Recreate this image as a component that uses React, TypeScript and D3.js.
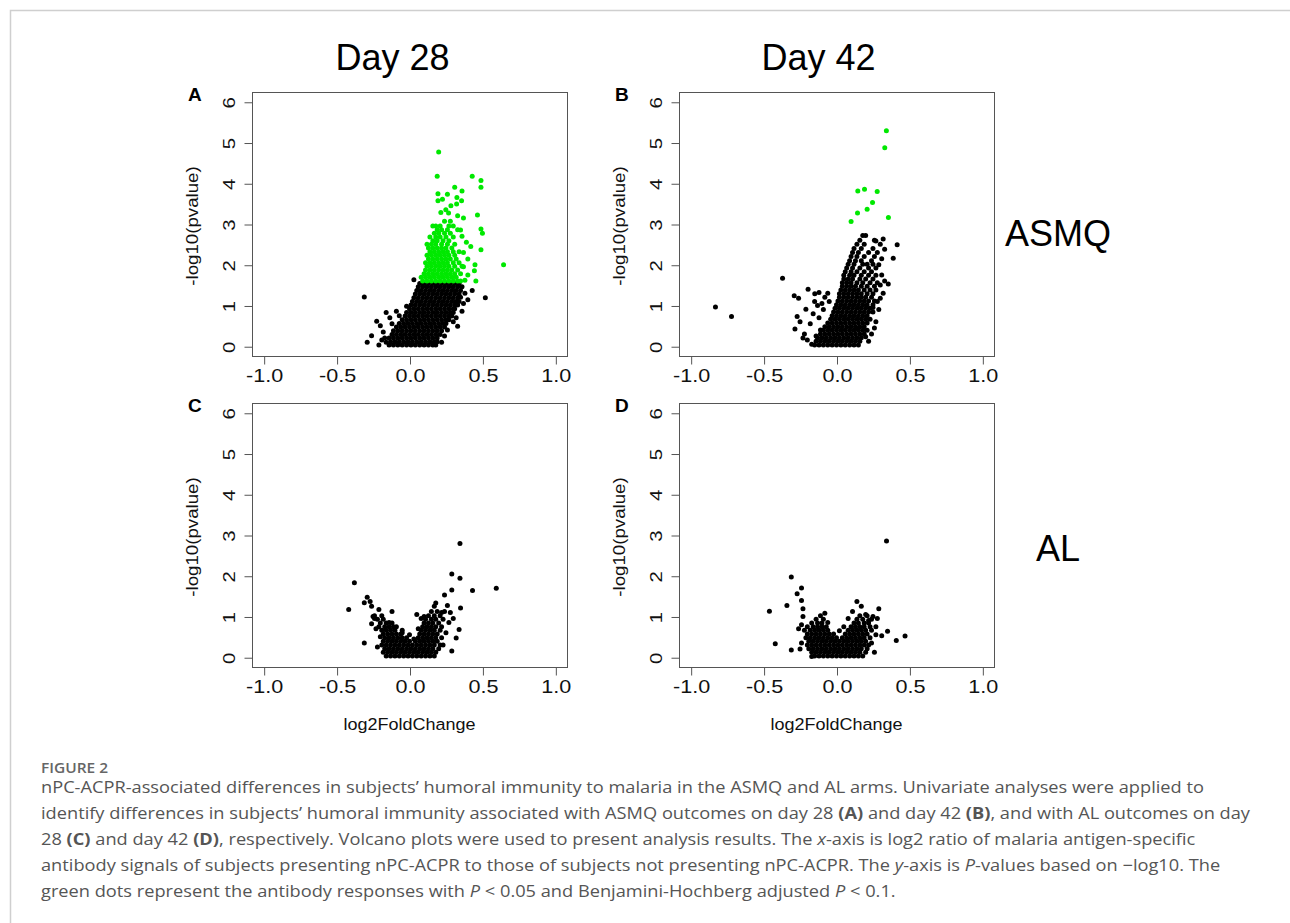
import React, { useEffect, useRef } from "react";
import * as d3 from "d3";

type Row = [number, number[]];
type Pt = [number, number];

const xTicks = [-1.0, -0.5, 0.0, 0.5, 1.0];
const yTicks = [0, 1, 2, 3, 4, 5, 6];
const dayLabels = ["Day 28", "Day 42"];
const armLabels = ["ASMQ", "AL"];
const panelLetters = ["A", "B", "C", "D"];
const xTitle = "log2FoldChange";
const yTitle = "-log10(pvalue)";

// Panel A (ASMQ, day 28) - dense black core, one row per -log10(p) level: [y, [x...]]
const aBlackRows: Row[] = [
  [0.03, [-0.14, -0.11, -0.08, -0.05, -0.02, 0.01, 0.04, 0.07, 0.1, 0.13, 0.16, 0.18]],
  [0.11, [-0.13, -0.1, -0.07, -0.04, -0.01, 0.02, 0.05, 0.08, 0.11, 0.14, 0.17, 0.19]],
  [0.2, [-0.14, -0.11, -0.08, -0.05, -0.02, 0.01, 0.04, 0.07, 0.1, 0.13, 0.16, 0.19]],
  [0.29, [-0.12, -0.09, -0.06, -0.03, 0.0, 0.03, 0.06, 0.09, 0.12, 0.15, 0.18, 0.21]],
  [0.38, [-0.11, -0.08, -0.05, -0.02, 0.01, 0.04, 0.07, 0.1, 0.13, 0.16, 0.19, 0.22]],
  [0.47, [-0.09, -0.06, -0.03, 0.0, 0.03, 0.06, 0.09, 0.12, 0.15, 0.18, 0.21, 0.24]],
  [0.56, [-0.07, -0.04, -0.01, 0.02, 0.05, 0.08, 0.11, 0.14, 0.17, 0.2, 0.23, 0.25]],
  [0.65, [-0.05, -0.02, 0.01, 0.04, 0.07, 0.1, 0.13, 0.16, 0.19, 0.22, 0.25, 0.27]],
  [0.74, [-0.03, 0.0, 0.03, 0.06, 0.09, 0.12, 0.15, 0.18, 0.21, 0.24, 0.27, 0.29]],
  [0.83, [-0.02, 0.01, 0.04, 0.07, 0.1, 0.13, 0.16, 0.19, 0.22, 0.25, 0.28, 0.3]],
  [0.92, [0.0, 0.03, 0.06, 0.09, 0.12, 0.15, 0.18, 0.21, 0.24, 0.27, 0.3, 0.31]],
  [1.01, [0.01, 0.04, 0.07, 0.1, 0.13, 0.16, 0.19, 0.22, 0.25, 0.28, 0.31, 0.33]],
  [1.1, [0.02, 0.05, 0.08, 0.11, 0.14, 0.17, 0.2, 0.23, 0.26, 0.29, 0.32, 0.34]],
  [1.19, [0.03, 0.06, 0.09, 0.12, 0.15, 0.18, 0.21, 0.24, 0.27, 0.3, 0.33]],
  [1.28, [0.04, 0.07, 0.1, 0.13, 0.16, 0.19, 0.22, 0.25, 0.28, 0.31, 0.34]],
  [1.37, [0.05, 0.08, 0.11, 0.14, 0.17, 0.2, 0.23, 0.26, 0.29, 0.32, 0.35]],
  [1.46, [0.06, 0.09, 0.12, 0.15, 0.18, 0.21, 0.24, 0.27, 0.3, 0.33, 0.36]],
  [1.54, [0.07, 0.1, 0.13, 0.16, 0.19, 0.22, 0.25, 0.28, 0.31, 0.34]],
];
const aBlackScatter: Pt[] = [
  [-0.31, 1.21], [-0.29, 0.1], [-0.26, 0.26], [-0.21, 0.03], [-0.225, 0.61], [-0.2, 0.5],
  [-0.16, 0.83], [-0.135, 0.7], [-0.09, 0.86], [-0.02, 0.98], [0.52, 1.19], [0.43, 1.37],
  [0.4, 1.14], [0.38, 1.3], [0.36, 0.86], [0.33, 0.49], [-0.18, 0.35], [-0.17, 0.2],
  [-0.16, 0.1], [-0.19, 0.15], [0.22, 0.1], [0.24, 0.25], [0.26, 0.4], [0.3, 0.6],
  [0.32, 0.7], [0.37, 1.05], [-0.12, 0.55], [-0.07, 0.75], [0.03, 1.63], [0.35, 1.2],
];
const aGreenRows: Row[] = [
  [1.6, [0.09, 0.12, 0.15, 0.18, 0.21, 0.24, 0.27, 0.3, 0.33, 0.35]],
  [1.69, [0.08, 0.11, 0.14, 0.17, 0.2, 0.23, 0.26, 0.29, 0.32]],
  [1.78, [0.1, 0.13, 0.16, 0.19, 0.22, 0.25, 0.28, 0.31, 0.35]],
  [1.87, [0.11, 0.14, 0.17, 0.2, 0.23, 0.26, 0.29, 0.33]],
  [1.96, [0.12, 0.15, 0.18, 0.21, 0.24, 0.27, 0.31, 0.36]],
  [2.05, [0.11, 0.14, 0.17, 0.2, 0.23, 0.26, 0.3, 0.34]],
  [2.14, [0.13, 0.16, 0.19, 0.22, 0.25, 0.28, 0.32]],
  [2.23, [0.12, 0.15, 0.18, 0.21, 0.24, 0.27, 0.31]],
  [2.32, [0.14, 0.17, 0.2, 0.23, 0.26, 0.3, 0.34]],
  [2.41, [0.13, 0.16, 0.19, 0.22, 0.25, 0.29]],
  [2.5, [0.12, 0.15, 0.18, 0.22, 0.26, 0.31]],
  [2.59, [0.16, 0.19, 0.23, 0.27]],
  [2.68, [0.14, 0.18, 0.21, 0.25, 0.3]],
  [2.77, [0.17, 0.2, 0.24, 0.28]],
  [2.86, [0.19, 0.22, 0.26, 0.33]],
  [2.95, [0.18, 0.21, 0.27]],
];
const aGreenScatter: Pt[] = [
  [0.2, 4.77], [0.19, 4.17], [0.43, 4.17], [0.49, 4.07], [0.49, 3.9], [0.31, 3.9],
  [0.36, 3.81], [0.195, 3.74], [0.26, 3.73], [0.226, 3.61], [0.195, 3.57], [0.325, 3.65],
  [0.357, 3.57], [0.323, 3.49], [0.284, 3.45], [0.249, 3.35], [0.215, 3.28], [0.268, 3.27],
  [0.466, 3.22], [0.37, 3.15], [0.33, 3.2], [0.24, 3.07], [0.28, 3.07], [0.49, 2.88],
  [0.5, 2.77], [0.49, 2.37], [0.645, 2.0], [0.449, 2.0], [0.445, 1.85], [0.455, 1.6],
  [0.4, 2.14], [0.38, 1.62], [0.39, 2.55], [0.36, 2.7], [0.37, 2.3], [0.35, 2.85],
  [0.4, 1.75], [0.42, 2.45], [0.37, 1.95], [0.16, 2.95], [0.3, 2.95],
];

// Panel B (ASMQ, day 42)
const bBlackRows: Row[] = [
  [0.03, [-0.15, -0.12, -0.09, -0.06, -0.03, 0.0, 0.03, 0.06, 0.09, 0.12, 0.15]],
  [0.12, [-0.14, -0.11, -0.08, -0.05, -0.02, 0.01, 0.04, 0.07, 0.1, 0.13, 0.16]],
  [0.21, [-0.13, -0.1, -0.07, -0.04, -0.01, 0.02, 0.05, 0.08, 0.11, 0.14, 0.17]],
  [0.3, [-0.11, -0.08, -0.05, -0.02, 0.01, 0.04, 0.07, 0.1, 0.13, 0.16, 0.19]],
  [0.39, [-0.09, -0.06, -0.03, 0.0, 0.03, 0.06, 0.09, 0.12, 0.15, 0.18, 0.21]],
  [0.48, [-0.08, -0.05, -0.02, 0.01, 0.04, 0.07, 0.1, 0.13, 0.16, 0.19]],
  [0.57, [-0.06, -0.03, 0.0, 0.03, 0.06, 0.09, 0.12, 0.15, 0.18, 0.21]],
  [0.66, [-0.04, -0.01, 0.02, 0.05, 0.08, 0.11, 0.14, 0.17, 0.2, 0.23]],
  [0.75, [-0.03, 0.0, 0.03, 0.06, 0.09, 0.12, 0.15, 0.18, 0.21]],
  [0.84, [-0.02, 0.01, 0.04, 0.07, 0.1, 0.13, 0.16, 0.19, 0.22, 0.25]],
  [0.93, [-0.01, 0.02, 0.05, 0.08, 0.11, 0.14, 0.17, 0.2, 0.23]],
  [1.02, [0.0, 0.03, 0.06, 0.09, 0.12, 0.15, 0.18, 0.21, 0.25]],
  [1.11, [0.01, 0.04, 0.07, 0.1, 0.13, 0.16, 0.19, 0.22, 0.26]],
  [1.2, [0.02, 0.05, 0.08, 0.11, 0.14, 0.17, 0.2, 0.24]],
  [1.29, [0.02, 0.05, 0.08, 0.11, 0.14, 0.17, 0.21, 0.25]],
  [1.38, [0.03, 0.06, 0.09, 0.12, 0.15, 0.19, 0.23, 0.27]],
  [1.47, [0.04, 0.07, 0.1, 0.13, 0.17, 0.21, 0.26]],
  [1.56, [0.04, 0.07, 0.1, 0.14, 0.18, 0.23, 0.28]],
  [1.65, [0.05, 0.08, 0.11, 0.16, 0.2, 0.25]],
  [1.74, [0.05, 0.09, 0.12, 0.17, 0.22, 0.27]],
  [1.83, [0.06, 0.1, 0.14, 0.19, 0.24]],
  [1.92, [0.07, 0.11, 0.16, 0.22, 0.27]],
  [2.01, [0.08, 0.12, 0.18, 0.21, 0.25]],
  [2.1, [0.09, 0.13, 0.17, 0.24]],
  [2.2, [0.1, 0.14, 0.19, 0.26]],
  [2.3, [0.11, 0.15, 0.22]],
  [2.4, [0.12, 0.17, 0.25]],
  [2.5, [0.14, 0.19]],
  [2.6, [0.16, 0.26]],
  [2.72, [0.18, 0.2]],
];
const bBlackScatter: Pt[] = [
  [-0.83, 0.96], [-0.72, 0.73], [-0.37, 1.67], [-0.29, 1.24], [-0.26, 1.18], [-0.195, 1.4],
  [-0.27, 0.73], [-0.285, 0.42], [-0.21, 0.91], [0.416, 2.49], [0.389, 2.16], [0.355, 1.53],
  [0.3, 1.18], [0.32, 2.63], [0.33, 2.38], [0.137, 0.45], [-0.25, 0.6], [-0.22, 0.3],
  [-0.2, 0.15], [-0.18, 0.55], [-0.16, 0.8], [-0.15, 1.1], [-0.13, 1.0], [-0.12, 0.7],
  [-0.1, 1.05], [-0.09, 0.9], [-0.08, 1.2], [-0.11, 0.4], [-0.17, 0.05], [-0.23, 0.2],
  [-0.06, 1.3], [-0.05, 1.1], [-0.14, 0.25], [-0.149, 1.29], [-0.12, 1.32], [0.28, 2.3],
  [0.29, 2.0], [0.3, 1.5], [0.31, 1.75], [0.32, 1.3], [0.29, 0.9], [0.27, 0.6],
  [0.26, 0.45], [0.24, 0.3], [0.2, 0.23], [0.22, 0.12], [0.3, 2.5], [0.27, 2.58],
  [0.31, 2.15], [0.33, 1.6], [0.25, 0.95], [0.28, 1.1],
];
const bGreenScatter: Pt[] = [
  [0.342, 5.29], [0.331, 4.87], [0.279, 3.8], [0.192, 3.85], [0.146, 3.81],
  [0.247, 3.53], [0.21, 3.36], [0.144, 3.27], [0.1, 3.06], [0.356, 3.16],
];

// Panel C (AL, day 28)
const cBlackRows: Row[] = [
  [0.03, [-0.16, -0.13, -0.1, -0.07, -0.04, -0.01, 0.02, 0.05, 0.08, 0.11, 0.14, 0.17]],
  [0.12, [-0.18, -0.15, -0.12, -0.09, -0.06, -0.03, 0.0, 0.03, 0.06, 0.09, 0.12, 0.15, 0.18]],
  [0.21, [-0.17, -0.14, -0.11, -0.08, -0.05, -0.02, 0.01, 0.04, 0.07, 0.1, 0.13, 0.16, 0.2]],
  [0.3, [-0.19, -0.16, -0.13, -0.1, -0.07, -0.04, -0.01, 0.02, 0.05, 0.08, 0.11, 0.14, 0.17, 0.21]],
  [0.39, [-0.18, -0.15, -0.12, -0.09, -0.06, -0.03, 0.0, 0.04, 0.07, 0.1, 0.13, 0.16, 0.19]],
  [0.48, [-0.17, -0.14, -0.11, -0.08, -0.05, -0.02, 0.06, 0.09, 0.12, 0.15, 0.18, 0.22]],
  [0.57, [-0.18, -0.15, -0.12, -0.09, -0.06, 0.07, 0.1, 0.13, 0.16, 0.19]],
  [0.66, [-0.19, -0.16, -0.13, -0.1, -0.05, 0.08, 0.11, 0.14, 0.17, 0.21]],
  [0.75, [-0.21, -0.17, -0.14, -0.11, 0.09, 0.12, 0.15, 0.18, 0.22]],
  [0.84, [-0.2, -0.16, -0.12, 0.1, 0.13, 0.16, 0.2]],
  [0.93, [-0.22, -0.18, 0.11, 0.15, 0.18, 0.23]],
  [1.02, [-0.24, -0.19, 0.13, 0.17, 0.21]],
  [1.12, [0.15, 0.19, 0.24]],
];
const cBlackScatter: Pt[] = [
  [0.346, 2.79], [0.29, 2.04], [0.346, 1.94], [0.29, 1.65], [0.432, 1.64], [0.595, 1.69],
  [0.35, 1.21], [0.34, 0.68], [0.32, 0.47], [0.29, 0.15], [0.24, 1.53], [0.18, 1.33],
  [0.17, 1.25], [0.26, 1.27], [0.28, 1.1], [0.3, 0.95], [0.27, 0.85], [0.25, 0.6],
  [0.23, 0.3], [0.22, 1.1], [-0.378, 1.83], [-0.417, 1.17], [-0.31, 0.35], [-0.31, 1.34],
  [-0.29, 1.47], [-0.27, 1.37], [-0.26, 1.25], [-0.21, 1.17], [-0.12, 1.12], [-0.25, 1.0],
  [-0.26, 0.82], [-0.24, 0.95], [-0.23, 0.7], [-0.2, 0.5], [-0.22, 0.25], [-0.14, 0.85],
  [-0.09, 0.75], [-0.05, 0.6], [0.0, 0.55], [0.03, 0.45], [0.06, 0.7], [0.05, 1.05],
  [0.08, 0.95], [0.1, 1.0],
];

// Panel D (AL, day 42)
const dBlackRows: Row[] = [
  [0.03, [-0.15, -0.12, -0.09, -0.06, -0.03, 0.0, 0.03, 0.06, 0.09, 0.12, 0.15, 0.18]],
  [0.12, [-0.17, -0.14, -0.11, -0.08, -0.05, -0.02, 0.01, 0.04, 0.07, 0.1, 0.13, 0.16, 0.2]],
  [0.21, [-0.19, -0.16, -0.13, -0.1, -0.07, -0.04, -0.01, 0.02, 0.05, 0.08, 0.11, 0.14, 0.17, 0.21]],
  [0.3, [-0.2, -0.17, -0.14, -0.11, -0.08, -0.05, -0.02, 0.01, 0.04, 0.07, 0.1, 0.13, 0.16, 0.19, 0.22]],
  [0.39, [-0.19, -0.16, -0.13, -0.1, -0.07, -0.04, -0.01, 0.02, 0.05, 0.08, 0.11, 0.14, 0.17, 0.2]],
  [0.48, [-0.21, -0.18, -0.15, -0.12, -0.09, -0.06, -0.03, 0.0, 0.04, 0.07, 0.1, 0.13, 0.16, 0.19, 0.23]],
  [0.57, [-0.2, -0.17, -0.14, -0.11, -0.08, -0.05, -0.02, 0.06, 0.09, 0.12, 0.15, 0.18, 0.21]],
  [0.66, [-0.22, -0.18, -0.15, -0.12, -0.09, -0.06, 0.08, 0.11, 0.14, 0.17, 0.2, 0.24]],
  [0.75, [-0.2, -0.16, -0.13, -0.1, -0.07, 0.1, 0.13, 0.16, 0.19, 0.23]],
  [0.84, [-0.17, -0.13, -0.1, 0.12, 0.15, 0.19, 0.22]],
  [0.93, [-0.14, -0.09, 0.14, 0.18, 0.24]],
  [1.02, [-0.11, 0.16, 0.21]],
];
const dBlackScatter: Pt[] = [
  [0.343, 2.85], [-0.31, 1.97], [-0.24, 1.7], [-0.27, 1.56], [-0.24, 1.39], [-0.34, 1.27],
  [-0.46, 1.13], [-0.42, 0.33], [-0.31, 0.18], [-0.23, 1.19], [0.14, 1.37], [0.17, 1.25],
  [0.29, 1.19], [0.11, 1.12], [0.47, 0.52], [0.41, 0.41], [0.35, 0.64], [0.31, 0.53],
  [0.26, 0.12], [-0.17, 0.02], [-0.08, 1.08], [-0.23, 1.0], [-0.24, 0.8], [-0.26, 0.7],
  [-0.24, 0.35], [-0.25, 0.2], [0.25, 1.0], [0.22, 0.9], [0.27, 0.75], [0.28, 0.95],
  [0.2, 1.05], [0.08, 0.95], [-0.06, 0.85], [0.02, 0.65], [0.27, 0.55], [0.24, 0.35],
  [0.05, 0.75],
];

// Caption lines: [text, style] segments (n = normal, b = bold, i = italic)
const captionTitle = "FIGURE 2";
const captionLines: [string, string][][] = [
  [["nPC-ACPR-associated differences in subjects’ humoral immunity to malaria in the ASMQ and AL arms. Univariate analyses were applied to", "n"]],
  [
    ["identify differences in subjects’ humoral immunity associated with ASMQ outcomes on day 28 ", "n"],
    ["(A)", "b"], [" and day 42 ", "n"], ["(B)", "b"], [", and with AL outcomes on day", "n"],
  ],
  [
    ["28 ", "n"], ["(C)", "b"], [" and day 42 ", "n"], ["(D)", "b"],
    [", respectively. Volcano plots were used to present analysis results. The ", "n"],
    ["x", "i"], ["-axis is log2 ratio of malaria antigen-specific", "n"],
  ],
  [
    ["antibody signals of subjects presenting nPC-ACPR to those of subjects not presenting nPC-ACPR. The ", "n"],
    ["y", "i"], ["-axis is ", "n"], ["P", "i"], ["-values based on −log10. The", "n"],
  ],
  [
    ["green dots represent the antibody responses with ", "n"], ["P", "i"],
    [" < 0.05 and Benjamini-Hochberg adjusted ", "n"], ["P", "i"], [" < 0.1.", "n"],
  ],
];

const flat = (rows: Row[]): Pt[] => rows.flatMap(([y, xs]) => xs.map((x) => [x, y] as Pt));

const App = () => {
  const svgRef = useRef<SVGSVGElement>(null);
  const width = 1290;
  const height = 923;
  const boxW = 315;
  const boxH = 264;
  const chartFont = "'Liberation Sans', Arial, Helvetica, sans-serif";
  const green = "#00e800";
  const dotR = 2.5;

  useEffect(() => {
    if (!svgRef.current) return;
    const svg = d3.select(svgRef.current);
    svg.selectAll("*").remove();

    // outer frame of the figure card
    svg
      .append("rect")
      .attr("x", 10.5)
      .attr("y", 10.5)
      .attr("width", 1320)
      .attr("height", 1000)
      .attr("fill", "none")
      .attr("stroke", "#cfcfcf")
      .attr("stroke-width", 1.5);

    const panels = [
      { left: 252, top: 92, black: flat(aBlackRows).concat(aBlackScatter), green: flat(aGreenRows).concat(aGreenScatter), xLab: false },
      { left: 679, top: 92, black: flat(bBlackRows).concat(bBlackScatter), green: bGreenScatter, xLab: false },
      { left: 252, top: 403, black: flat(cBlackRows).concat(cBlackScatter), green: [] as Pt[], xLab: true },
      { left: 679, top: 403, black: flat(dBlackRows).concat(dBlackScatter), green: [] as Pt[], xLab: true },
    ];

    panels.forEach((p, i) => {
      const x = d3.scaleLinear([-1.08, 1.08], [p.left, p.left + boxW]);
      const y = d3.scaleLinear([-0.24, 6.24], [p.top + boxH, p.top]);
      const g = svg.append("g").attr("font-family", chartFont);

      // points
      g.append("g")
        .selectAll("circle")
        .data(p.black)
        .join("circle")
        .attr("cx", (d) => x(d[0]))
        .attr("cy", (d) => y(d[1]))
        .attr("r", dotR)
        .attr("fill", "#000");
      g.append("g")
        .selectAll("circle")
        .data(p.green)
        .join("circle")
        .attr("cx", (d) => x(d[0]))
        .attr("cy", (d) => y(d[1]))
        .attr("r", dotR)
        .attr("fill", green);

      // box
      g.append("rect")
        .attr("x", p.left + 0.5)
        .attr("y", p.top + 0.5)
        .attr("width", boxW)
        .attr("height", boxH)
        .attr("fill", "none")
        .attr("stroke", "#555")
        .attr("stroke-width", 1);

      // x-axis
      g.append("g")
        .attr("transform", `translate(0.5,${p.top + boxH + 0.5})`)
        .call(
          d3
            .axisBottom(x)
            .tickValues(xTicks)
            .tickSize(8)
            .tickPadding(5)
            .tickFormat((d) => (d as number).toFixed(1))
        )
        .call((a) => a.select(".domain").remove())
        .call((a) => a.selectAll(".tick line").attr("stroke", "#555"))
        .call((a) =>
          a
            .selectAll(".tick text")
            .attr("font-size", 18)
            .attr("fill", "#111")
            .attr("font-family", chartFont)
            .attr("transform", "scale(1.2,1)")
        );

      // y-axis with rotated labels (R style)
      g.append("g")
        .attr("transform", `translate(${p.left + 0.5},0.5)`)
        .call(d3.axisLeft(y).tickValues(yTicks).tickSize(8).tickFormat((d) => String(d)))
        .call((a) => a.select(".domain").remove())
        .call((a) => a.selectAll(".tick line").attr("stroke", "#555"))
        .call((a) =>
          a
            .selectAll(".tick text")
            .attr("x", null)
            .attr("dy", null)
            .attr("text-anchor", "middle")
            .attr("transform", "translate(-17.5,0) rotate(-90) scale(1.2,1)")
            .attr("font-size", 17)
            .attr("fill", "#111")
            .attr("font-family", chartFont)
        );

      // y title
      g.append("text")
        .attr("transform", `translate(${p.left - 54},${p.top + boxH / 2 + 2}) rotate(-90) scale(1.1,1)`)
        .attr("text-anchor", "middle")
        .attr("font-size", 17)
        .attr("fill", "#111")
        .text(yTitle);

      if (p.xLab) {
        g.append("text")
          .attr("transform", `translate(${p.left + boxW / 2},${p.top + boxH + 63}) scale(1.06,1)`)
          .attr("text-anchor", "middle")
          .attr("font-size", 17)
          .attr("fill", "#111")
          .text(xTitle);
      }

      // panel letter
      g.append("text")
        .attr("x", p.left - 64)
        .attr("y", p.top + 9)
        .attr("font-size", 19)
        .attr("font-weight", "bold")
        .attr("fill", "#000")
        .text(panelLetters[i]);
    });

    // column and row headings
    const head = svg.append("g").attr("font-family", chartFont).attr("font-size", 36).attr("fill", "#000");
    dayLabels.forEach((t, i) => {
      head
        .append("text")
        .attr("x", 409.5 + i * 427)
        .attr("y", 70)
        .attr("text-anchor", "middle")
        .attr("dx", i === 0 ? -17 : -18)
        .text(t);
    });
    armLabels.forEach((t, i) => {
      head
        .append("text")
        .attr("x", 1058)
        .attr("y", i === 0 ? 246 : 561)
        .attr("text-anchor", "middle")
        .text(t);
    });

    // caption (the journal face is wider than Open Sans, so stretch it a little)
    const cap = svg
      .append("g")
      .attr("font-family", "'Open Sans', 'Noto Sans', sans-serif")
      .attr("fill", "#555")
      .attr("transform", "translate(41,0) scale(1.105,1)");
    cap
      .append("text")
      .attr("x", 0)
      .attr("y", 773)
      .attr("font-size", 14)
      .attr("font-weight", 600)
      .attr("fill", "#666")
      .text(captionTitle);
    captionLines.forEach((line, i) => {
      const t = cap
        .append("text")
        .attr("x", 0)
        .attr("y", 793 + i * 26)
        .attr("font-size", 16.5);
      line.forEach(([s, st]) => {
        t.append("tspan")
          .attr("font-weight", st === "b" ? 700 : 400)
          .attr("font-style", st === "i" ? "italic" : "normal")
          .text(s);
      });
    });
  }, []);

  return (
    <svg
      ref={svgRef}
      width={width}
      height={height}
      viewBox={`0 0 ${width} ${height}`}
      style={{ position: "absolute", left: 0, top: 0, background: "#fff" }}
    />
  );
};

export default App;
